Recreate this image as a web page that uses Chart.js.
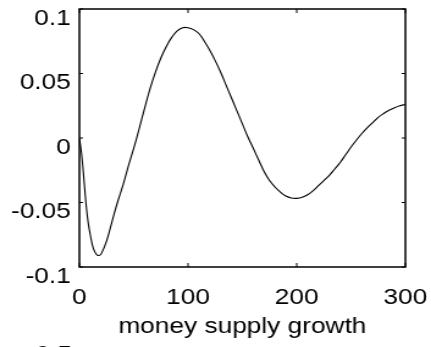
<!DOCTYPE html>
<html>
<head>
<meta charset="utf-8">
<script src="https://cdn.jsdelivr.net/npm/chart.js@4"></script>
<style>
  html, body { margin: 0; padding: 0; background: #fff; overflow: hidden; }
  /* canvas is drawn narrower and widened by CSS, like the stretched original plot */
  #grafico { display: block; width: 431px; height: 347px; }
</style>
</head>
<body>
<canvas id="grafico" width="353" height="347" style="width:431px;height:347px"></canvas>
<script>
// resposta ao choque: eixo x (passos) e valores
const passos = [0, 2, 4, 6, 8, 10, 13, 16, 18, 20, 25, 30, 35, 40, 45, 50, 55, 60, 65, 70, 75, 80, 85, 90, 95,
  100, 105, 110, 115, 120, 125, 130, 135, 140, 145, 150, 155, 160, 165, 170, 175, 180, 185, 190, 195,
  200, 205, 210, 215, 220, 225, 230, 235, 240, 245, 250, 255, 260, 265, 270, 275, 280, 285, 290, 295, 300];
const resposta = [0, -0.012, -0.030, -0.050, -0.065, -0.075, -0.086, -0.0905, -0.091, -0.090, -0.080, -0.065, -0.050, -0.037, -0.022, -0.008, 0.007, 0.023, 0.038, 0.051, 0.062, 0.071, 0.078, 0.083, 0.0855,
  0.0855, 0.084, 0.081, 0.075, 0.068, 0.060, 0.051, 0.041, 0.031, 0.021, 0.011, 0.001, -0.008, -0.017, -0.026, -0.033, -0.038, -0.042, -0.045, -0.0465,
  -0.0468, -0.046, -0.044, -0.041, -0.037, -0.033, -0.029, -0.024, -0.019, -0.013, -0.007, -0.0015, 0.0035, 0.008, 0.012, 0.016, 0.019, 0.0215, 0.0235, 0.025, 0.026];
const ticksX = [0, 100, 200, 300];
const ticksY = [-0.1, -0.05, 0, 0.05, 0.1];
const tituloX = 'money supply growth';

const fonte = { family: "'Liberation Sans', Arial, Helvetica, sans-serif", size: 21.5 };

// moldura da caixa e marcas para dentro, como no matlab
const moldura = {
  id: 'moldura',
  afterDraw(chart) {
    const { ctx, chartArea: a, scales } = chart;
    ctx.save();
    ctx.strokeStyle = '#000';
    ctx.lineWidth = 1.5;
    ctx.strokeRect(a.left, a.top, a.right - a.left, a.bottom - a.top);
    ctx.lineWidth = 1;
    ctx.beginPath();
    ticksX.forEach(v => {
      const px = scales.x.getPixelForValue(v);
      ctx.moveTo(px, a.bottom); ctx.lineTo(px, a.bottom - 4);
      ctx.moveTo(px, a.top); ctx.lineTo(px, a.top + 4);
    });
    ticksY.forEach(v => {
      const py = scales.y.getPixelForValue(v);
      ctx.moveTo(a.left, py); ctx.lineTo(a.left + 3, py);
      ctx.moveTo(a.right, py); ctx.lineTo(a.right - 3, py);
    });
    ctx.stroke();
    // pedaço do rótulo do gráfico de baixo
    ctx.fillStyle = '#000';
    ctx.font = fonte.size + 'px ' + fonte.family;
    ctx.textAlign = 'right';
    ctx.textBaseline = 'alphabetic';
    ctx.fillText('0.5', 59, 361);
    ctx.restore();
  }
};

new Chart(document.getElementById('grafico'), {
  type: 'line',
  data: {
    datasets: [{
      data: passos.map((x, i) => ({ x, y: resposta[i] })),
      borderColor: '#000',
      borderWidth: 1.1,
      pointRadius: 0,
      fill: false,
      tension: 0.4
    }]
  },
  options: {
    responsive: false,
    animation: false,
    devicePixelRatio: 1,
    layout: { padding: { top: 9, right: 21, left: 0, bottom: 0 } },
    plugins: { legend: { display: false }, tooltip: { enabled: false } },
    scales: {
      x: {
        type: 'linear',
        min: 0, max: 300,
        afterBuildTicks: s => { s.ticks = ticksX.map(v => ({ value: v })); },
        afterFit: s => { s.height = 80; s.paddingLeft = 0; s.paddingRight = 0; },
        grid: { display: false, drawTicks: false },
        border: { display: false },
        ticks: { color: '#000', font: fonte, padding: 18, maxRotation: 0 },
        title: { display: true, text: tituloX, color: '#000', font: fonte, padding: { top: 0, bottom: 7 } }
      },
      y: {
        min: -0.1, max: 0.1,
        afterBuildTicks: s => { s.ticks = ticksY.map(v => ({ value: v })); },
        afterFit: s => { s.width = 65; s.paddingTop = 0; s.paddingBottom = 0; },
        grid: { display: false, drawTicks: false },
        border: { display: false },
        ticks: { color: '#000', font: fonte, padding: 7, labelOffset: 10, callback: v => String(v) }
      }
    }
  },
  plugins: [moldura]
});
</script>
</body>
</html>
